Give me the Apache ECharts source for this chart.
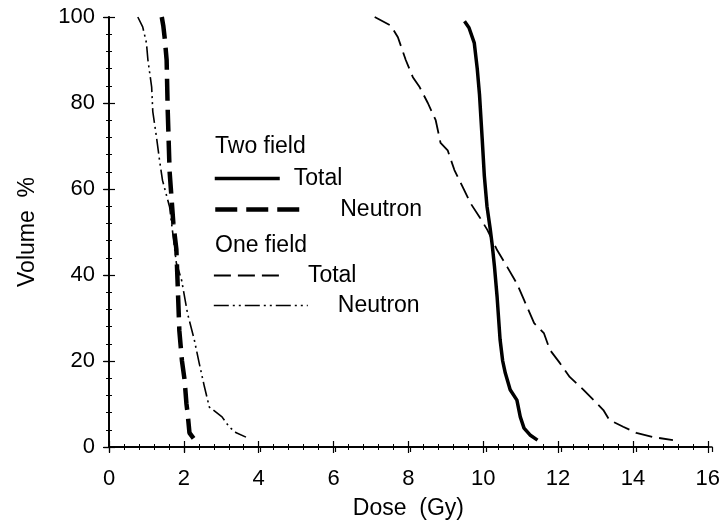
<!DOCTYPE html>
<html>
<head>
<meta charset="utf-8">
<script src="https://cdn.jsdelivr.net/npm/echarts@6/dist/echarts.min.js"></script>
<style>
  html, body { margin: 0; padding: 0; background: #fff; }
  #chart { width: 723px; height: 527px; }
</style>
</head>
<body>
<div id="chart"></div>
<script>
// Dose-volume histograms: [dose (Gy), volume (%)]
const twoFieldTotal = [
  [9.50, 99], [9.62, 97.5], [9.76, 94], [9.84, 88], [9.90, 82], [9.97, 72],
  [10.03, 63], [10.10, 56], [10.19, 50.5], [10.24, 47], [10.30, 42], [10.37, 35],
  [10.45, 25], [10.52, 20], [10.59, 17.2], [10.72, 13.3], [10.90, 10.9],
  [10.99, 7], [11.09, 4.4], [11.25, 2.8], [11.45, 1.6]
];
const twoFieldNeutron = [
  [1.41, 100], [1.45, 98], [1.49, 95], [1.54, 90], [1.57, 78], [1.62, 64],
  [1.67, 58], [1.72, 52], [1.80, 46], [1.83, 39], [1.88, 27], [1.95, 20],
  [2.02, 15.6], [2.07, 10], [2.10, 7.9], [2.15, 3.3], [2.26, 2.0]
];
const oneFieldTotal = [
  [7.10, 100], [7.53, 98], [7.72, 95.3], [7.93, 90], [8.12, 86], [8.30, 83.7],
  [8.52, 80], [8.73, 76], [8.86, 70.7], [9.05, 69], [9.23, 64.4], [9.45, 60.5],
  [9.66, 56.7], [9.90, 53.5], [10.11, 50.5], [10.37, 45.8], [10.64, 41.9],
  [10.90, 38], [11.09, 34.2], [11.36, 28.8], [11.62, 26.5], [11.78, 22.6],
  [12.05, 19.5], [12.31, 16.3], [12.68, 13.3], [12.95, 10.9], [13.21, 8.6],
  [13.37, 6.3], [13.74, 4.7], [14.09, 3.3], [14.54, 2.3], [15.07, 1.6]
];
const oneFieldNeutron = [
  [0.77, 100], [0.90, 97.7], [1.00, 94], [1.04, 90], [1.14, 83.7], [1.17, 78],
  [1.27, 72], [1.35, 66.7], [1.43, 62], [1.62, 55.8], [1.80, 42.8], [1.94, 38.8],
  [2.10, 31], [2.28, 24.9], [2.41, 19.5], [2.55, 14], [2.68, 9.3], [3.02, 7],
  [3.21, 4.7], [3.40, 3.3], [3.66, 2.3]
];

const doseTicks = { min: 0, max: 16, step: 2 };
const volumeTicks = { min: 0, max: 100, step: 20 };

const FONT = "'Liberation Sans', Arial, Helvetica, sans-serif";
const INK = '#000';

function frameAxis(base, extra) {
  return Object.assign({
    type: 'value',
    min: base.min, max: base.max, interval: base.step,
    splitLine: { show: false },
    axisLine: { show: true, lineStyle: { color: INK, width: 1.5 } },
    axisTick: { show: true, inside: true, length: 6, lineStyle: { color: INK, width: 1.2 } },
    minorTick: { show: true, splitNumber: 5, length: 3, lineStyle: { color: INK, width: 1 } },
    axisLabel: { show: false },
    silent: true
  }, extra);
}

const option = {
  animation: false,
  backgroundColor: '#fff',
  grid: [
    { left: 109, right: 11, top: 17, bottom: 80 },
    { left: 109, right: 11, top: 17, bottom: 80 }
  ],
  xAxis: [
    frameAxis(doseTicks, {
      gridIndex: 0, position: 'bottom',
      axisLabel: { show: true, margin: 21, fontSize: 22, color: INK, fontFamily: FONT },
      name: 'Dose  (Gy)', nameLocation: 'middle', nameGap: 50,
      nameTextStyle: { fontSize: 23, color: INK, fontFamily: FONT }
    }),
    frameAxis(doseTicks, { gridIndex: 0, position: 'top' }),
    frameAxis(doseTicks, {
      gridIndex: 1, position: 'bottom',
      axisTick: { show: true, inside: false, length: 5, lineStyle: { color: INK, width: 1.2 } },
      minorTick: { show: false }
    })
  ],
  yAxis: [
    frameAxis(volumeTicks, {
      gridIndex: 0, position: 'left',
      axisLabel: { show: true, margin: 14, fontSize: 22, color: INK, fontFamily: FONT },
      name: 'Volume  %', nameLocation: 'middle', nameGap: 70, nameRotate: 90,
      nameTextStyle: { fontSize: 23, color: INK, fontFamily: FONT }
    }),
    frameAxis(volumeTicks, { gridIndex: 0, position: 'right' }),
    frameAxis(volumeTicks, {
      gridIndex: 1, position: 'left',
      axisTick: { show: true, inside: false, length: 5, lineStyle: { color: INK, width: 1.2 } },
      minorTick: { show: false }
    })
  ],
  legend: [],
  graphic: [],
  series: []
};

// Curves and their legend entries
const curves = [
  { key: 'two-total', label: 'Total', data: twoFieldTotal,
    style: { color: INK, width: 3.5, type: 'solid' },
    legend: { top: 180, iconW: 65, gap: 9 } },
  { key: 'two-neutron', label: 'Neutron', data: twoFieldNeutron,
    style: { color: INK, width: 4.5, type: [22, 9] },
    legend: { top: 211, iconW: 89, gap: 31 } },
  { key: 'one-total', label: 'Total', data: oneFieldTotal,
    style: { color: INK, width: 1.8, type: [17, 7] },
    legend: { top: 277, iconW: 67, gap: 22 } },
  { key: 'one-neutron', label: 'Neutron', data: oneFieldNeutron,
    style: { color: INK, width: 1.6, type: [15, 4, 2, 4, 2, 4] },
    legend: { top: 307, iconW: 94, gap: 25 } }
];

curves.forEach(c => {
  option.series.push({
    name: c.key, type: 'line', xAxisIndex: 0, yAxisIndex: 0,
    data: c.data, symbol: 'none', showSymbol: false, smooth: false,
    lineStyle: c.style, itemStyle: { color: INK }, silent: true
  });
  option.legend.push({
    data: [c.key], left: 213, top: c.legend.top - 13,
    padding: 0, selectedMode: false,
    itemWidth: c.legend.iconW, itemHeight: 14,
    formatter: () => c.label,
    itemStyle: { color: 'rgba(0,0,0,0)', borderWidth: 0, opacity: 0 },
    lineStyle: { width: c.style.width, type: c.style.type, color: INK },
    textStyle: { fontSize: 23, color: INK, fontFamily: FONT, padding: [0, 0, 0, c.legend.gap] }
  });
});

// Group headings in the legend block
[['Two field', 148], ['One field', 247]].forEach(([txt, cy]) => {
  option.graphic.push({
    type: 'text', left: 215, top: cy - 13, silent: true,
    style: { text: txt, fontSize: 23, fill: INK, fontFamily: FONT }
  });
});

const chart = echarts.init(document.getElementById('chart'), null, { renderer: 'canvas' });
chart.setOption(option);
</script>
</body>
</html>
